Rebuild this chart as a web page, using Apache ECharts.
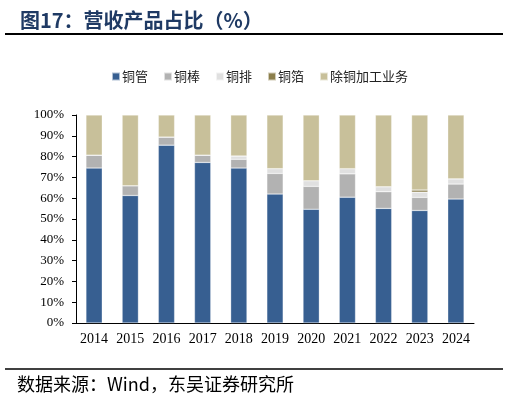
<!DOCTYPE html>
<html>
<head>
<meta charset="utf-8">
<script src="https://cdn.jsdelivr.net/npm/echarts@6/dist/echarts.min.js"></script>
<style>
  html, body { margin: 0; padding: 0; background: #fff; }
  #main { width: 510px; height: 402px; }
</style>
</head>
<body>
<div id="main"></div>
<script>
// 年份
var years = ['2014', '2015', '2016', '2017', '2018', '2019', '2020', '2021', '2022', '2023', '2024'];
// 各产品占比（%）
var tubeShare  = [74.5, 61.3, 85.5, 77.2, 74.5, 62.0, 54.7, 60.5, 55.1, 54.1, 59.6]; // 铜管
var rodShare   = [6.2, 4.7, 3.9, 3.5, 4.2, 9.9, 11.0, 11.2, 8.0, 6.3, 7.2];          // 铜棒
var busShare   = [0, 0, 0, 0, 1.6, 2.3, 2.7, 2.5, 2.4, 2.5, 2.5];                    // 铜排
var foilShare  = [0, 0, 0, 0, 0, 0, 0, 0, 0, 1.0, 0];                                // 铜箔
var otherShare = [19.3, 34.0, 10.6, 19.3, 19.7, 25.8, 31.6, 25.8, 34.5, 36.1, 30.7]; // 除铜加工业务
var yTicks = [0, 10, 20, 30, 40, 50, 60, 70, 80, 90, 100];

var myChart = echarts.init(document.getElementById('main'));

var serif = '"Liberation Serif", "Times New Roman", serif';
var cjk = '"Noto Sans CJK SC", sans-serif';

function barSeries(name, data, color) {
    return {
        name: name,
        type: 'bar',
        stack: 'total',
        barWidth: '45%',
        data: data,
        itemStyle: {
            color: color,
            borderColor: 'rgba(255,255,255,0.6)',
            borderWidth: 0.5
        }
    };
}

var option = {
    backgroundColor: '#fff',
    animation: false,
    title: {
        text: '图17：营收产品占比（%）',
        left: 15,
        top: 5,
        textStyle: {
            fontFamily: cjk,
            fontSize: 20,
            fontWeight: 'bold',
            color: '#1f3a64'
        }
    },
    legend: {
        top: 65,
        left: 106,
        itemWidth: 8,
        itemHeight: 8,
        itemGap: 15,
        icon: 'rect',
        textStyle: {
            fontFamily: cjk,
            fontSize: 13,
            color: '#222',
            padding: [0, 0, 0, -3]
        },
        data: ['铜管', '铜棒', '铜排', '铜箔', '除铜加工业务']
    },
    grid: {
        left: 76,
        right: 36,
        top: 115,
        bottom: 79
    },
    xAxis: {
        type: 'category',
        data: years,
        axisLine: { lineStyle: { color: '#000', width: 1 } },
        axisTick: { length: 5, interval: 0, lineStyle: { color: '#000' } },
        axisLabel: {
            interval: 0,
            fontFamily: serif,
            fontSize: 14,
            color: '#000',
            margin: 9
        }
    },
    yAxis: {
        type: 'value',
        min: yTicks[0],
        max: yTicks[yTicks.length - 1],
        interval: 10,
        axisLine: { show: true, lineStyle: { color: '#000', width: 1 } },
        axisTick: { show: true, length: 4, lineStyle: { color: '#000' } },
        splitLine: { show: false },
        axisLabel: {
            formatter: '{value}%',
            fontFamily: serif,
            fontSize: 13,
            color: '#000',
            margin: 12
        }
    },
    graphic: [
        {
            type: 'line',
            shape: { x1: 5, y1: 34, x2: 503, y2: 34 },
            style: { stroke: '#000', lineWidth: 2 }
        },
        {
            type: 'line',
            shape: { x1: 5, y1: 369, x2: 503, y2: 369 },
            style: { stroke: '#000', lineWidth: 1.5 }
        },
        {
            type: 'text',
            left: 17,
            top: 375,
            style: {
                text: '数据来源：Wind，东吴证券研究所',
                font: '18px "Noto Sans CJK SC", sans-serif',
                fill: '#000'
            }
        }
    ],
    series: [
        barSeries('铜管', tubeShare, '#375f91'),
        barSeries('铜棒', rodShare, '#b2b2b2'),
        barSeries('铜排', busShare, '#e0e0e0'),
        barSeries('铜箔', foilShare, '#8c7f4c'),
        barSeries('除铜加工业务', otherShare, '#c8c09a')
    ]
};

myChart.setOption(option);
</script>
</body>
</html>
